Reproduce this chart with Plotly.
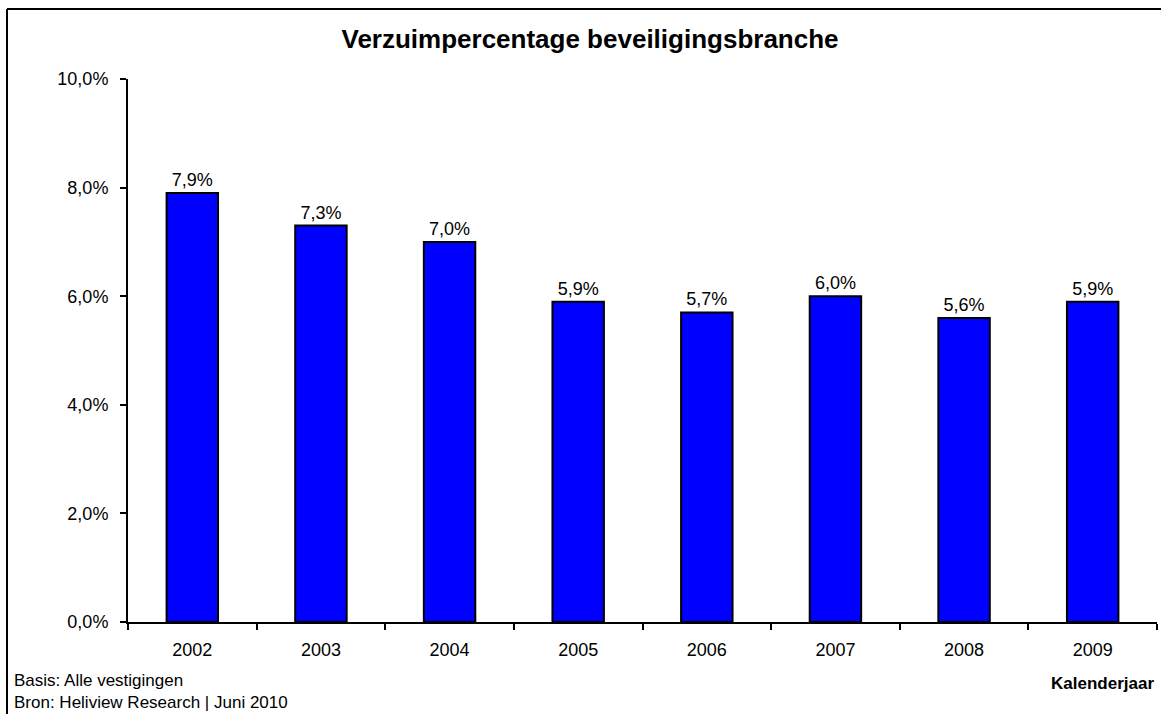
import plotly.graph_objects as go

years = ["2002", "2003", "2004", "2005", "2006", "2007", "2008", "2009"]
verzuim = [0.079, 0.073, 0.070, 0.059, 0.057, 0.060, 0.056, 0.059]
y_ticks = [0.0, 0.02, 0.04, 0.06, 0.08, 0.10]

title_text = "Verzuimpercentage beveiligingsbranche"
x_title = "Kalenderjaar"
footer1 = "Basis: Alle vestigingen"
footer2 = "Bron: Heliview Research | Juni 2010"

W, H = 1161, 714
L, R, T, B = 128, 4, 79, 92
PW, PH = W - L - R, H - T - B

def px_x(px):
    return (px - L) / PW

def px_y(py):
    return (H - B - py) / PH

FONT = "Arial, Liberation Sans, sans-serif"

fig = go.Figure(
    go.Bar(
        x=years,
        y=verzuim,
        marker=dict(color="#0000FF", line=dict(color="black", width=2)),
        texttemplate="%{y:.1%}",
        textposition="outside",
        textfont=dict(family=FONT, size=18, color="black"),
        cliponaxis=False,
    )
)

fig.update_layout(
    width=W,
    height=H,
    margin=dict(l=L, r=R, t=T, b=B),
    paper_bgcolor="white",
    plot_bgcolor="white",
    separators=",.",
    bargap=0.6,
    showlegend=False,
    font=dict(family=FONT, color="black"),
    title=dict(
        text="<b>" + title_text + "</b>",
        font=dict(family=FONT, size=26, color="black"),
        x=px_x(590), xref="paper", xanchor="center",
        y=1 - 39 / H, yref="container", yanchor="middle",
    ),
)

fig.update_xaxes(
    type="category",
    showline=True, linecolor="black", linewidth=2,
    ticks="outside", tickson="boundaries", ticklen=6, tickwidth=2, tickcolor="black",
    tickfont=dict(family=FONT, size=18, color="black"),
    ticklabelstandoff=10,
    showgrid=False, zeroline=False,
)
fig.update_yaxes(
    range=[0, 0.1],
    tickvals=y_ticks,
    tickformat=".1%",
    showline=True, linecolor="black", linewidth=2,
    ticks="outside", ticklen=6, tickwidth=2, tickcolor="black",
    tickfont=dict(family=FONT, size=18, color="black"),
    ticklabelstandoff=8,
    showgrid=False, zeroline=False,
)

# outer frame (top and left edges visible)
fig.add_shape(type="line", xref="paper", yref="paper",
              x0=px_x(7), x1=px_x(W + 5), y0=px_y(9), y1=px_y(9),
              line=dict(color="black", width=2))
fig.add_shape(type="line", xref="paper", yref="paper",
              x0=px_x(7), x1=px_x(7), y0=px_y(9), y1=px_y(H + 5),
              line=dict(color="black", width=2))

fig.add_annotation(text=footer1, xref="paper", yref="paper",
                   x=px_x(12), y=px_y(680), xanchor="left", yanchor="middle",
                   showarrow=False, font=dict(family=FONT, size=17, color="black"))
fig.add_annotation(text=footer2, xref="paper", yref="paper",
                   x=px_x(12), y=px_y(702), xanchor="left", yanchor="middle",
                   showarrow=False, font=dict(family=FONT, size=17, color="black"))
fig.add_annotation(text="<b>" + x_title + "</b>", xref="paper", yref="paper",
                   x=px_x(1156), y=px_y(683), xanchor="right", yanchor="middle",
                   showarrow=False, font=dict(family=FONT, size=17, color="black"))

fig.write_html(
    "out.html",
    config={"displayModeBar": False},
    post_script="document.body.style.margin='0';document.body.style.overflow='hidden';",
)
